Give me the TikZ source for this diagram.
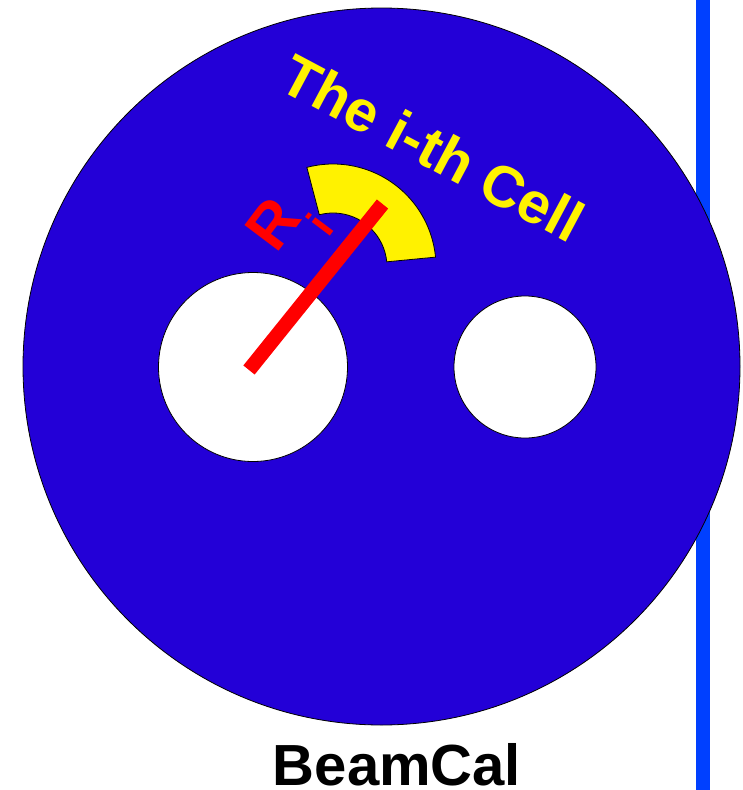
\documentclass[tikz,border=0pt]{standalone}
\usepackage{fontspec}
\setmainfont{Liberation Sans}
\definecolor{diskblue}{RGB}{35,0,215}
\definecolor{lineblue}{RGB}{0,64,255}
\begin{document}
\begin{tikzpicture}[x=1pt,y=1pt,
  outline/.style={draw=black, line width=0.8pt},
  hole/.style={circle, outline, fill=white, inner sep=0pt},
  lbl/.style={inner sep=0pt, font=\bfseries\fontsize{58}{60}\selectfont}]
\useasboundingbox (0,0) rectangle (743,-790);
% vertical beam line
\coordinate (ltop) at (703,0);
\coordinate (lbot) at (703,-790);
\draw[lineblue, line width=14pt] (ltop) -- (lbot);
% BeamCal disk
\node[circle, outline, fill=diskblue, inner sep=0pt, minimum size=717pt] (disk) at (381.5,-366.5) {};
% holes
\node[hole, minimum size=189pt] (hl) at (253,-367) {};
\node[hole, minimum size=142pt] (hr) at (525,-367) {};
% the i-th cell (annular sector)
\coordinate (sc) at (333,-267);
\draw[outline, fill=yellow]
  ([shift={(5.5:103)}]sc) arc[start angle=5.5, end angle=104.7, radius=103]
  -- ([shift={(104.7:54)}]sc) arc[start angle=104.7, end angle=5.5, radius=54]
  -- cycle;
% radius R_i
\coordinate (r0) at (249,-370);
\coordinate (r1) at (382.5,-204);
\draw[red, line width=14.5pt] (r0) -- (r1);
% labels
\node[lbl, yellow, rotate=-28, anchor=base] (cell) at (423.3,-166.2) {The i-th Cell};
\node[lbl, red, rotate=53, font=\bfseries\fontsize{62}{64}\selectfont] (R) at (272.7,-224.1) {R};
\node[lbl, red, rotate=53, font=\bfseries\fontsize{43}{45}\selectfont] (Ri) at (320,-224.3) {i};
\node[lbl, black, anchor=base] (title) at (397,-785) {BeamCal};
\end{tikzpicture}
\end{document}
